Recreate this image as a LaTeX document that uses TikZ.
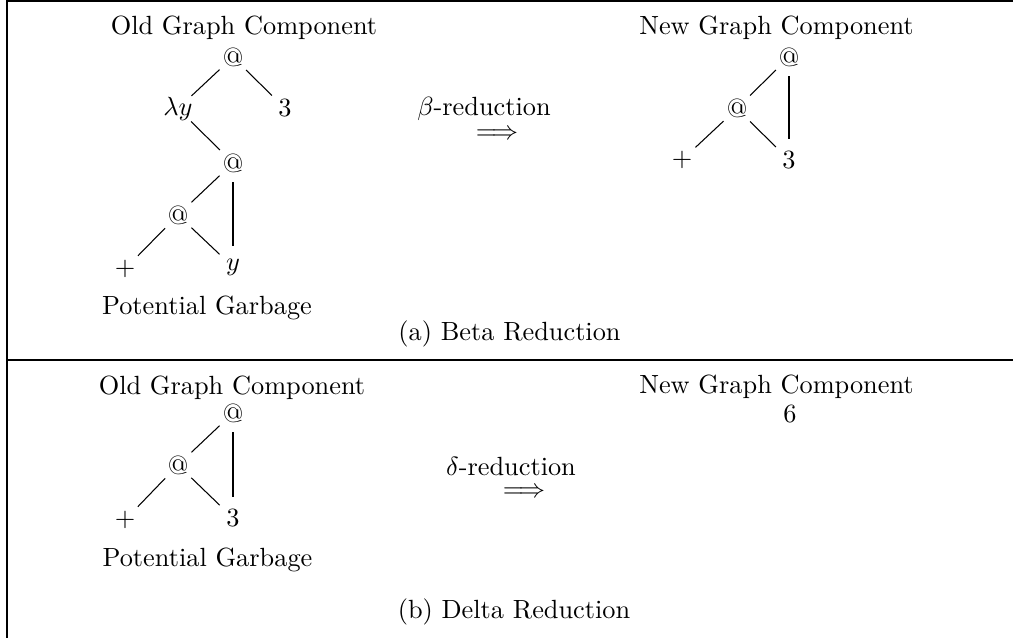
\documentclass[tikz,border=0pt]{standalone}
\begin{document}
\begin{tikzpicture}[x=0.38pt,y=-0.38pt,
  lbl/.style={inner sep=0pt,anchor=base},
  vtx/.style={inner sep=0pt},
  edge/.style={line width=0.4pt,shorten <=7pt,shorten >=7pt},
  share/.style={line width=0.95pt,shorten <=7.4pt,shorten >=8pt},
  frame/.style={line width=0.8pt}]
\useasboundingbox (0,0) rectangle (1013,638);

% ruled frame: top, left and the separator between the two panels
\draw[frame] (1013,1) -- (7,1) -- (7,638);
\draw[frame] (7,360) -- (1013,360);

% ---------- (a) beta reduction: old component ----------
\node[lbl] (oldA) at (244,34.5) {Old Graph Component};
\node[vtx] (a1) at (233,57) {@};
\node[vtx] (a2) at (178,108.5) {$\lambda y$};
\node[vtx] (a3) at (285,108.5) {$3$};
\node[vtx] (a4) at (233,163) {@};
\node[vtx] (a5) at (178,215) {@};
\node[vtx] (a6) at (125,269) {$+$};
\node[vtx] (a7) at (233,267) {$y$};
\node[lbl] (garbA) at (207,314) {Potential Garbage};

\draw[edge] (a1.center) -- (a2.center);
\draw[edge] (a1.center) -- (a3.center);
\draw[edge] (a2.center) -- (a4.center);
\draw[edge] (a4.center) -- (a5.center);
\draw[edge] (a5.center) -- (a6.center);
\draw[edge] (a5.center) -- (a7.center);
\draw[share] (a4.center) -- (a7.center);

% reduction step
\node[lbl] (betaLbl) at (484,115.5) {$\beta$-reduction};
\node[vtx] (betaArr) at (497,134.5) {$\Longrightarrow$};

% ---------- (a) beta reduction: new component ----------
\node[lbl] (newA) at (776.5,34.3) {New Graph Component};
\node[vtx] (b1) at (789,57) {@};
\node[vtx] (b2) at (737,108.5) {@};
\node[vtx] (b3) at (682,160) {$+$};
\node[vtx] (b4) at (789,160) {$3$};

\draw[edge] (b1.center) -- (b2.center);
\draw[edge] (b2.center) -- (b3.center);
\draw[edge] (b2.center) -- (b4.center);
\draw[share] (b1.center) -- (b4.center);

\node[lbl] (capA) at (509.5,340.5) {(a) Beta Reduction};

% ---------- (b) delta reduction: old component ----------
\node[lbl] (oldB) at (232,394) {Old Graph Component};
\node[vtx] (c1) at (233,413) {@};
\node[vtx] (c2) at (178,465) {@};
\node[vtx] (c3) at (125,520) {$+$};
\node[vtx] (c4) at (233,518) {$3$};
\node[lbl] (garbB) at (207.5,566.5) {Potential Garbage};

\draw[edge] (c1.center) -- (c2.center);
\draw[edge] (c2.center) -- (c3.center);
\draw[edge] (c2.center) -- (c4.center);
\draw[share] (c1.center) -- (c4.center);

% reduction step
\node[lbl] (deltaLbl) at (511,475.5) {$\delta$-reduction};
\node[vtx] (deltaArr) at (524,493) {$\Longrightarrow$};

% ---------- (b) delta reduction: new component ----------
\node[lbl] (newB) at (776.5,393.5) {New Graph Component};
\node[vtx] (d1) at (790,414) {$6$};

\node[lbl] (capB) at (514,618) {(b) Delta Reduction};
\end{tikzpicture}
\end{document}
